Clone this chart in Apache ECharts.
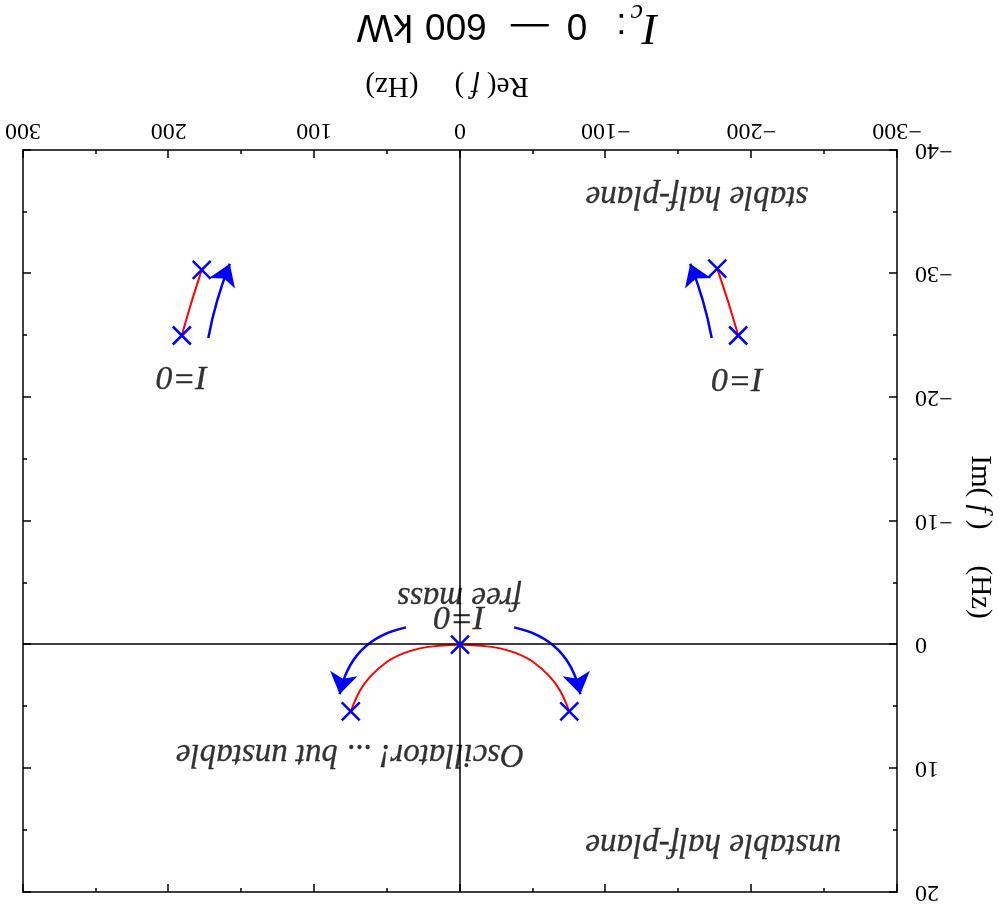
<!DOCTYPE html>
<html>
<head>
<meta charset="utf-8">
<script src="https://cdn.jsdelivr.net/npm/echarts@6/dist/echarts.min.js"></script>
<style>
  html, body { margin: 0; padding: 0; background: #fff; }
  /* the reference is printed upside down, so the whole chart is turned */
  #chart { width: 1001px; height: 909px; transform: rotate(180deg); }
</style>
</head>
<body>
<div id="chart"></div>
<script>
const serif = "'Liberation Serif', 'DejaVu Serif', serif"
const sans = "'Liberation Sans', Arial, sans-serif"

// poles in the complex f plane: [Re f, Im f] (Hz)
const poles = [[0, 0], [75, 5.4], [-75, 5.4], [191, -25], [177.3, -30.3], [-191, -25], [-176.6, -30.4]]

// root loci while I_c goes from 0 to 600 kW
const locusCenter = [
  [-75, 5.4], [-68.6, 3.7], [-61.8, 2.6], [-50.3, 1.4], [-38.9, 0.7], [-27.5, 0.3], [-13.7, 0.08], [0, 0],
  [13.7, 0.08], [27.5, 0.3], [38.9, 0.7], [50.3, 1.4], [61.8, 2.6], [68.6, 3.7], [75, 5.4]
]
const locusPos = [[191, -25], [184.6, -27.6], [177.3, -30.3]]
const locusNeg = [[-191, -25], [-184.4, -27.6], [-176.6, -30.4]]

// direction arrows next to the loci
const arrowStart = [[37.1, -1.4], [-37.1, -1.4], [172.8, -24.8], [-172.8, -24.8]]
const arrowEnd = [[82.6, 4.0], [-82.6, 4.0], [158, -30.8], [-158, -30.8]]
const arrowBend = [-0.33, 0.33, 0.05, -0.05]

// annotations
const noteText = ['stable half-plane', 'unstable half-plane', 'I=0', 'I=0', 'I=0', 'free mass', 'Oscillator! ... but unstable']
const notePos = [[-162.7, -36.3], [-173.9, 16.1], [191, -21.7], [-190.5, -21.6], [0.5, -2.3], [0.5, -3.9], [75.5, 8.8]]

const minus = v => String(v).replace('-', '\u2212')

const chart = echarts.init(document.getElementById('chart'))

const tickStyle = {show: true, inside: true, length: 8, lineStyle: {color: '#000', width: 1.5}}
const minorStyle = {show: true, splitNumber: 2, length: 4, lineStyle: {color: '#000', width: 1.5}}
const lineStyle = {show: true, onZero: false, lineStyle: {color: '#000', width: 1.5}}

const sansTok = (left, size) => ({
  fontFamily: sans, fontWeight: 'normal', fontSize: size, lineHeight: 36,
  verticalAlign: 'bottom', padding: [0, 0, 10, left], color: '#000'
})

chart.setOption({
  animation: false,
  backgroundColor: '#fff',
  title: {
    text: '{i|I}{c|c}{col|:}{z|0}{d|—}{n|600}{k|kW}',
    left: 336,
    top: 864,
    textStyle: {
      rich: {
        i: {fontFamily: serif, fontStyle: 'italic', fontWeight: 'normal', fontSize: 45, lineHeight: 44, verticalAlign: 'bottom', padding: [0, 0, 8, 2], color: '#000'},
        c: {fontFamily: serif, fontStyle: 'italic', fontWeight: 'normal', fontSize: 28, lineHeight: 26, verticalAlign: 'bottom', padding: [0, 0, 2, 0], color: '#000'},
        col: sansTok(4, 37),
        z: sansTok(29, 37),
        d: sansTok(18, 38),
        n: sansTok(24, 37),
        k: sansTok(12, 39)
      }
    }
  },
  grid: {left: 104, right: 23, top: 17, bottom: 150, outerBoundsMode: 'none'},
  xAxis: [{
    type: 'value', min: -300, max: 300, interval: 100, position: 'bottom',
    name: '{n|Re(}{f| f }{n|)     (Hz)}', nameLocation: 'middle', nameGap: 50,
    nameTextStyle: {padding: [0, 0, 0, 26], rich: {n: {fontFamily: serif, fontSize: 29, color: '#000'}, f: {fontFamily: serif, fontStyle: 'italic', fontSize: 29, color: '#000'}}},
    axisLine: lineStyle, axisTick: tickStyle, minorTick: minorStyle, splitLine: {show: false},
    axisLabel: {margin: 8, fontFamily: serif, fontSize: 24, color: '#000', formatter: minus}
  }, {
    type: 'value', min: -300, max: 300, interval: 100, position: 'top',
    axisLine: lineStyle, axisTick: tickStyle, minorTick: minorStyle, splitLine: {show: false},
    axisLabel: {show: false}
  }],
  yAxis: [{
    type: 'value', min: -40, max: 20, interval: 10, position: 'left',
    name: '{n|Im(}{f| f }{n|)     (Hz)}', nameLocation: 'middle', nameGap: 68,
    nameTextStyle: {padding: [0, 0, 0, 32], rich: {n: {fontFamily: serif, fontSize: 29, color: '#000'}, f: {fontFamily: serif, fontStyle: 'italic', fontSize: 29, color: '#000'}}},
    axisLine: lineStyle, axisTick: tickStyle, minorTick: minorStyle, splitLine: {show: false},
    axisLabel: {margin: 18, fontFamily: serif, fontSize: 24, color: '#000', formatter: minus}
  }, {
    type: 'value', min: -40, max: 20, interval: 10, position: 'right',
    axisLine: lineStyle, axisTick: tickStyle, minorTick: minorStyle, splitLine: {show: false},
    axisLabel: {show: false}
  }],
  series: [
    {
      type: 'line', data: locusCenter, smooth: 0.4, symbol: 'none',
      lineStyle: {color: '#ff0000', width: 2}, z: 3,
      markLine: {
        silent: true, symbol: 'none', label: {show: false},
        lineStyle: {color: '#000', width: 1.5, type: 'solid'},
        data: [{xAxis: 0}, {yAxis: 0}]
      }
    },
    {type: 'line', data: locusPos, smooth: 0.4, symbol: 'none', lineStyle: {color: '#ff0000', width: 2}, z: 3},
    {type: 'line', data: locusNeg, smooth: 0.4, symbol: 'none', lineStyle: {color: '#ff0000', width: 2}, z: 3},
    {
      type: 'lines', coordinateSystem: 'cartesian2d', z: 4,
      symbol: ['none', 'arrow'], symbolSize: [14, 21],
      lineStyle: {color: '#0000ff', width: 2.5, opacity: 1},
      data: arrowStart.map((s, i) => ({coords: [s, arrowEnd[i]], lineStyle: {curveness: arrowBend[i]}}))
    },
    {
      type: 'scatter', data: poles, z: 5,
      symbol: 'path://M0,0L10,10M10,0L0,10', symbolSize: 18,
      itemStyle: {color: 'none', borderColor: '#0000ff', borderWidth: 2.5, opacity: 1}
    },
    {
      type: 'scatter', symbolSize: 0, z: 6,
      data: noteText.map((t, i) => ({value: notePos[i], name: t, label: {fontSize: t === 'I=0' ? 34 : 33}})),
      label: {
        show: true, position: 'inside', formatter: '{b}', color: '#000',
        fontFamily: serif, fontStyle: 'italic',
        textBorderColor: '#000', textBorderWidth: 0.3
      }
    }
  ]
})
</script>
</body>
</html>
